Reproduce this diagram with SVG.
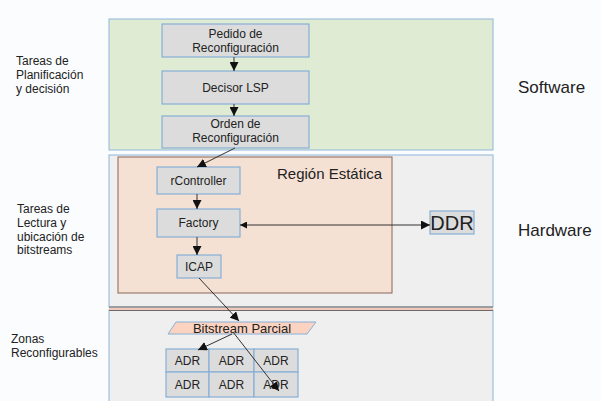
<svg xmlns="http://www.w3.org/2000/svg" width="601" height="401" viewBox="0 0 601 401">
<defs>
<style>
text{font-family:"Liberation Sans",Arial,sans-serif;fill:#222}
.lbl{font-size:12px}
.nt{font-size:12px;text-anchor:middle}
.node{fill:#dcdcdc;stroke:#86b0d8;stroke-width:1.2}
.cn{stroke:#333;stroke-width:1;fill:none}
</style>
<marker id="ah" viewBox="0 0 10 10" refX="10" refY="5" markerWidth="9" markerHeight="9" markerUnits="userSpaceOnUse" orient="auto">
<path d="M0,0 L10,5 L0,10 z" fill="#111"/>
</marker>
<marker id="ahs" viewBox="0 0 10 10" refX="10" refY="5" markerWidth="7" markerHeight="7" markerUnits="userSpaceOnUse" orient="auto-start-reverse">
<path d="M0,0 L10,5 L0,10 z" fill="#111"/>
</marker>
</defs>
<rect x="0" y="0" width="601" height="401" fill="#fbfcfe"/>

<g id="panel-software">
<rect x="109" y="19" width="384" height="131" fill="#e0ebd4" stroke="#8fb6da" stroke-width="1"/>
</g>
<g id="panel-hardware">
<rect x="109" y="155" width="384" height="152" fill="#efefef" stroke="#8fb6da" stroke-width="1"/>
</g>
<g id="panel-zonas">
<rect x="109" y="310" width="384" height="95" fill="#efefef" stroke="#8fb6da" stroke-width="1"/>
<rect x="109" y="307.5" width="384" height="2.5" fill="#eec9b9"/>
<line x1="109" y1="307" x2="493" y2="307" stroke="#6f6866" stroke-width="1"/>
<line x1="109" y1="310.5" x2="493" y2="310.5" stroke="#6f6866" stroke-width="1"/>
</g>

<g id="region-estatica">
<rect x="118" y="157" width="274" height="136" fill="#f5e1d3" stroke="#8a6555" stroke-width="1"/>
<text x="277" y="179" font-size="15">Región Estática</text>
</g>

<g id="labels">
<text class="lbl" x="16" y="65">Tareas de</text>
<text class="lbl" x="16" y="79">Planificación</text>
<text class="lbl" x="16" y="93">y decisión</text>
<text class="lbl" x="17" y="213">Tareas de</text>
<text class="lbl" x="17" y="227">Lectura y</text>
<text class="lbl" x="17" y="241">ubicación de</text>
<text class="lbl" x="17" y="254">bitstreams</text>
<text class="lbl" x="11" y="343">Zonas</text>
<text class="lbl" x="11" y="357">Reconfigurables</text>
<text x="518" y="93" font-size="17">Software</text>
<text x="518" y="236" font-size="17">Hardware</text>
</g>

<g id="n-pedido">
<rect class="node" x="162" y="24" width="147" height="33"/>
<text class="nt" x="235.5" y="38">Pedido de</text>
<text class="nt" x="235.5" y="52">Reconfiguración</text>
</g>
<g id="n-decisor">
<rect class="node" x="162" y="71" width="147" height="33"/>
<text class="nt" x="235.5" y="92">Decisor LSP</text>
</g>
<g id="n-orden">
<rect class="node" x="162" y="116" width="147" height="32"/>
<text class="nt" x="235.5" y="128">Orden de</text>
<text class="nt" x="235.5" y="142">Reconfiguración</text>
</g>
<g id="n-rcontroller">
<rect class="node" x="157" y="167" width="83" height="27"/>
<text class="nt" x="198.5" y="185">rController</text>
</g>
<g id="n-factory">
<rect class="node" x="157" y="209" width="83" height="28"/>
<text class="nt" x="198.5" y="227">Factory</text>
</g>
<g id="n-icap">
<rect class="node" x="177" y="255" width="44" height="23"/>
<text class="nt" x="199" y="271">ICAP</text>
</g>
<g id="n-ddr">
<rect class="node" x="430" y="211" width="44" height="23"/>
<text x="452" y="230" font-size="20" text-anchor="middle">DDR</text>
</g>
<g id="n-bitstream">
<polygon points="176,322 316,322 307,334 168,334" fill="#fcd3c0" stroke="#86b0d8" stroke-width="1"/>
<text x="242" y="332.5" font-size="13" text-anchor="middle">Bitstream Parcial</text>
</g>
<g id="n-adr">
<rect class="node" x="166" y="349" width="43" height="23"/>
<rect class="node" x="209" y="349" width="45" height="23"/>
<rect class="node" x="254" y="349" width="44" height="23"/>
<rect class="node" x="166" y="372" width="43" height="25"/>
<rect class="node" x="209" y="372" width="45" height="25"/>
<rect class="node" x="254" y="372" width="44" height="25"/>
<text class="nt" x="187.5" y="365">ADR</text>
<text class="nt" x="231.5" y="365">ADR</text>
<text class="nt" x="276" y="365">ADR</text>
<text class="nt" x="187.5" y="389">ADR</text>
<text class="nt" x="231.5" y="389">ADR</text>
<text class="nt" x="276" y="389">ADR</text>
</g>

<g id="connectors">
<line class="cn" x1="234" y1="57" x2="234" y2="71" marker-end="url(#ah)"/>
<line class="cn" x1="234" y1="104" x2="234" y2="116" marker-end="url(#ah)"/>
<line class="cn" x1="235" y1="148" x2="197" y2="167" marker-end="url(#ah)"/>
<line class="cn" x1="197" y1="194" x2="197" y2="209" marker-end="url(#ah)"/>
<line class="cn" x1="197" y1="237" x2="197" y2="255" marker-end="url(#ah)"/>
<line class="cn" x1="240" y1="225" x2="430" y2="225" marker-start="url(#ahs)" marker-end="url(#ah)"/>
<line class="cn" x1="199" y1="278" x2="239" y2="321" marker-end="url(#ah)"/>
<line class="cn" x1="232" y1="334" x2="198" y2="350" marker-end="url(#ah)"/>
<line class="cn" x1="233" y1="332" x2="279" y2="391" marker-end="url(#ah)"/>
</g>
</svg>
